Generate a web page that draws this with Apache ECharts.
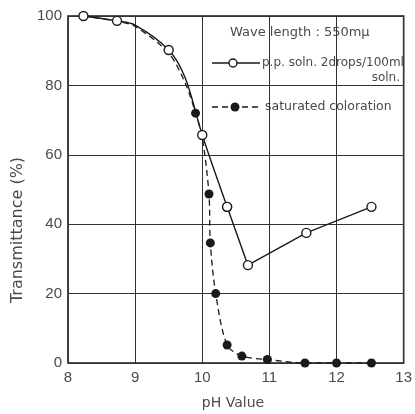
<!DOCTYPE html>
<html>
<head>
<meta charset="utf-8">
<script src="https://cdn.jsdelivr.net/npm/echarts@6/dist/echarts.min.js"></script>
<style>
  html, body { margin: 0; padding: 0; background: #fff; }
  #chart { width: 415px; height: 414px; }
</style>
</head>
<body>
<div id="chart"></div>
<script>
var ppX = [8.23, 8.73, 9.0, 9.5, 9.75, 10.0, 10.37, 10.68, 11.55, 12.52]
var ppY = [100, 98.6, 97.4, 90.2, 82, 65.7, 45, 28.2, 37.5, 45]
var ppHidden = [false, false, true, false, true, false, false, false, false, false]
// saturated coloration (filled circles); first points lie under the open circles
var satX = [8.23, 8.73, 9.0, 9.5, 9.75, 9.9, 10.0, 10.1, 10.12, 10.2, 10.37, 10.59, 10.97, 11.53, 12.0, 12.52]
var satY = [100, 98.5, 97, 89.3, 80.5, 72, 65, 48.7, 34.6, 20, 5.2, 2, 1, 0, 0, 0]
var satHidden = [true, true, true, true, true, false, true, false, false, false, false, false, false, false, false, false]
var xTicks = [8, 9, 10, 11, 12, 13]
var yTicks = [0, 20, 40, 60, 80, 100]

var ink = '#1a1a1a'
var textColor = '#4a4a4a'
var font = 'Liberation Sans'
var labelFont = 'DejaVu Sans'

function points(xs, ys, hidden) {
  return xs.map(function(x, i) {
    var d = { value: [x, ys[i]] }
    if (hidden[i]) d.symbol = 'none'
    return d
  })
}

var ppData = points(ppX, ppY, ppHidden)
var satData = points(satX, satY, satHidden)
var ppBreak = ppX.indexOf(10.37)

var chart = echarts.init(document.getElementById('chart'))

var openSymbol = {
  symbol: 'circle',
  symbolSize: 9,
  itemStyle: { color: '#fff', borderColor: ink, borderWidth: 1.4 }
}

chart.setOption({
  animation: false,
  grid: {
    left: 68, right: 3, top: 16, bottom: 51,
    show: true, borderColor: ink, borderWidth: 1.6
  },
  xAxis: {
    type: 'value',
    min: xTicks[0],
    max: xTicks[xTicks.length - 1],
    interval: 1,
    axisLine: { show: false },
    axisTick: { show: false },
    axisLabel: { color: textColor, fontSize: 15, fontFamily: font, margin: 7, showMaxLabel: true },
    splitLine: { lineStyle: { color: '#333', width: 1 } }
  },
  yAxis: {
    type: 'value',
    min: yTicks[0],
    max: yTicks[yTicks.length - 1],
    interval: 20,
    axisLine: { show: false },
    axisTick: { show: false },
    axisLabel: { color: textColor, fontSize: 15, fontFamily: font, margin: 6 },
    splitLine: { lineStyle: { color: '#333', width: 1 } }
  },
  graphic: [
    {
      type: 'text', x: 233, y: 403,
      style: { text: 'pH Value', fill: textColor, font: '14px ' + labelFont, align: 'center', verticalAlign: 'middle' }
    },
    {
      type: 'text', x: 18, y: 230, rotation: Math.PI / 2,
      style: { text: 'Transmittance (%)', fill: textColor, font: '16px ' + labelFont, align: 'center', verticalAlign: 'middle' }
    },
    {
      type: 'text', x: 230, y: 33,
      style: { text: 'Wave length : 550m\u03bc', fill: textColor, font: '13px ' + labelFont, verticalAlign: 'middle' }
    },
    {
      type: 'line', shape: { x1: 212, y1: 63, x2: 260, y2: 63 },
      style: { stroke: ink, lineWidth: 1.4 }
    },
    {
      type: 'circle', shape: { cx: 233, cy: 63, r: 4 },
      style: { fill: '#fff', stroke: ink, lineWidth: 1.4 }
    },
    {
      type: 'text', x: 262, y: 63,
      style: { text: 'p.p. soln. 2drops/100ml', fill: textColor, font: '12px ' + labelFont, verticalAlign: 'middle' }
    },
    {
      type: 'text', x: 400, y: 78,
      style: { text: 'soln.', fill: textColor, font: '12px ' + labelFont, align: 'right', verticalAlign: 'middle' }
    },
    {
      type: 'line', shape: { x1: 212, y1: 107, x2: 262, y2: 107 },
      style: { stroke: ink, lineWidth: 1.4, lineDash: [6, 4] }
    },
    {
      type: 'circle', shape: { cx: 235, cy: 107, r: 4.5 },
      style: { fill: ink }
    },
    {
      type: 'text', x: 265, y: 107,
      style: { text: 'saturated coloration', fill: textColor, font: '12.5px ' + labelFont, verticalAlign: 'middle' }
    }
  ],
  series: [
    {
      name: 'saturated coloration',
      type: 'line',
      data: satData,
      smooth: 0.3,
      symbol: 'circle',
      symbolSize: 9,
      itemStyle: { color: ink },
      lineStyle: { color: ink, width: 1.3, type: [6, 4] },
      z: 2
    },
    Object.assign({
      name: 'p.p. soln. curve',
      type: 'line',
      data: ppData.slice(0, ppBreak + 1),
      smooth: 0.3,
      lineStyle: { color: ink, width: 1.4 },
      z: 3
    }, openSymbol),
    Object.assign({
      name: 'p.p. soln.',
      type: 'line',
      data: ppData.slice(ppBreak),
      lineStyle: { color: ink, width: 1.4 },
      z: 3
    }, openSymbol)
  ]
})
</script>
</body>
</html>
